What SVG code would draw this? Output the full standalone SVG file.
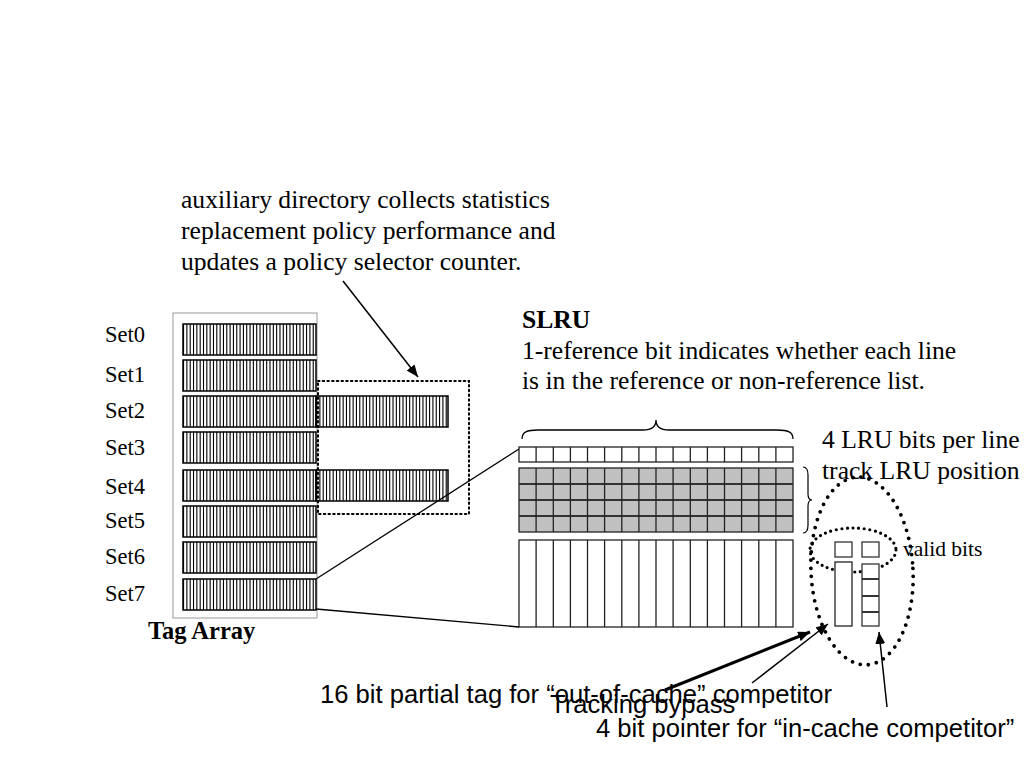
<svg xmlns="http://www.w3.org/2000/svg" width="1024" height="768" viewBox="0 0 1024 768">
<style>
.serif{font-family:"Liberation Serif","Times New Roman",serif;fill:#000}
.sans{font-family:"Liberation Sans",Arial,sans-serif;fill:#000}
.t18{font-size:25.6px}
.t16{font-size:22.5px}
.b{font-weight:bold}
.row{fill:none;stroke:#000;stroke-width:1.5}
.stripe{stroke:#000;stroke-width:31;stroke-dasharray:1.1 2.225}
.cell{fill:none;stroke:#222;stroke-width:1.3}
.ln{stroke:#000;fill:none}
.dots{fill:none;stroke:#000;stroke-linecap:round}
</style>
<defs>
<marker id="ah" viewBox="0 0 12 10" refX="12" refY="5" markerWidth="12" markerHeight="10" markerUnits="userSpaceOnUse" orient="auto">
<path d="M0,0 L12,5 L0,10 z" fill="#000"/>
</marker>
</defs>
<rect width="1024" height="768" fill="#fff"/>

<g id="top-text">
<text class="serif t18" x="181" y="208">auxiliary directory collects statistics</text>
<text class="serif t18" x="181" y="239">replacement policy performance and</text>
<text class="serif t18" x="181" y="270">updates a policy selector counter.</text>
</g>

<g id="tag-array">
<rect x="173" y="313" width="144" height="305" fill="none" stroke="#999" stroke-width="1"/>
<g id="set0"><line class="stripe" x1="183" y1="339.5" x2="316" y2="339.5"/><rect class="row" x="183" y="324" width="133" height="31"/><text class="serif t16" x="105" y="342">Set0</text></g>
<g id="set1"><line class="stripe" x1="183" y1="375.5" x2="316" y2="375.5"/><rect class="row" x="183" y="360" width="133" height="31"/><text class="serif t16" x="105" y="382">Set1</text></g>
<g id="set2"><line class="stripe" x1="183" y1="411.5" x2="316" y2="411.5"/><rect class="row" x="183" y="396" width="133" height="31"/><text class="serif t16" x="105" y="418">Set2</text></g>
<g id="set3"><line class="stripe" x1="183" y1="447.5" x2="316" y2="447.5"/><rect class="row" x="183" y="432" width="133" height="31"/><text class="serif t16" x="105" y="455">Set3</text></g>
<g id="set4"><line class="stripe" x1="183" y1="485.5" x2="316" y2="485.5"/><rect class="row" x="183" y="470" width="133" height="31"/><text class="serif t16" x="105" y="494">Set4</text></g>
<g id="set5"><line class="stripe" x1="183" y1="521.5" x2="316" y2="521.5"/><rect class="row" x="183" y="506" width="133" height="31"/><text class="serif t16" x="105" y="528">Set5</text></g>
<g id="set6"><line class="stripe" x1="183" y1="557.5" x2="316" y2="557.5"/><rect class="row" x="183" y="542" width="133" height="31"/><text class="serif t16" x="105" y="564">Set6</text></g>
<g id="set7"><line class="stripe" x1="183" y1="594.5" x2="316" y2="594.5"/><rect class="row" x="183" y="579" width="133" height="31"/><text class="serif t16" x="105" y="601">Set7</text></g>
<text class="serif b" font-size="24.5" x="148" y="639">Tag Array</text>
</g>

<g id="aux-directory">
<line class="stripe" x1="316" y1="411.5" x2="448" y2="411.5"/><rect class="row" x="316" y="396" width="132" height="31"/>
<line class="stripe" x1="316" y1="485.5" x2="448" y2="485.5"/><rect class="row" x="316" y="470" width="132" height="31"/>
<rect x="318" y="381" width="151" height="133" class="dots" stroke-width="2" stroke-dasharray="1.5 3.2"/>
</g>

<g id="slru-text">
<text class="serif t18 b" x="522" y="328">SLRU</text>
<text class="serif t18" x="522" y="359">1-reference bit indicates whether each line</text>
<text class="serif t18" x="522" y="389">is in the reference or non-reference list.</text>
</g>

<g id="cache-set">
<path class="ln" style="stroke-width:1.3" d="M522,439 C522,432 527,430 538,430 L643,430 C651,430 656,427 656,420 C656,427 661,430 669,430 L777,430 C788,430 793,432 793,439"/>
<rect x="519" y="447" width="274" height="15" fill="#fff" stroke="#222" stroke-width="1.3"/>
<path class="cell" d="M536.1,447V462M553.3,447V462M570.4,447V462M587.5,447V462M604.6,447V462M621.8,447V462M638.9,447V462M656,447V462M673.1,447V462M690.3,447V462M707.4,447V462M724.5,447V462M741.6,447V462M758.8,447V462M775.9,447V462"/>
<rect x="519" y="468" width="274" height="64" fill="#c0c0c0" stroke="#222" stroke-width="1.3"/>
<path d="M519,484H793M519,500H793M519,516H793" stroke="#333" stroke-width="2.2" fill="none"/>
<path class="cell" d="M536.1,468V532M553.3,468V532M570.4,468V532M587.5,468V532M604.6,468V532M621.8,468V532M638.9,468V532M656,468V532M673.1,468V532M690.3,468V532M707.4,468V532M724.5,468V532M741.6,468V532M758.8,468V532M775.9,468V532"/>
<rect x="519" y="540" width="274" height="87" fill="#fff" stroke="#222" stroke-width="1.3"/>
<path class="cell" d="M536.1,540V627M553.3,540V627M570.4,540V627M587.5,540V627M604.6,540V627M621.8,540V627M638.9,540V627M656,540V627M673.1,540V627M690.3,540V627M707.4,540V627M724.5,540V627M741.6,540V627M758.8,540V627M775.9,540V627"/>
<path class="ln" style="stroke-width:1.2" d="M803,467 C807,467 808,470 808,475 L808,494 C808,498 810,500 812,500 C810,500 808,502 808,506 L808,525 C808,530 807,533 803,533"/>
</g>

<g id="lru-text">
<text class="serif t18" x="822" y="448">4 LRU bits per line</text>
<text class="serif t18" x="822" y="479">track LRU position</text>
</g>

<g id="competitor">
<ellipse cx="862" cy="571" rx="51" ry="94" transform="rotate(-3 862 571)" class="dots" stroke-width="3.8" stroke-dasharray="0 8.2"/>
<ellipse cx="853" cy="550" rx="43" ry="22" class="dots" stroke-width="3.2" stroke-dasharray="0 5.6"/>
<rect x="835" y="542" width="17" height="15" fill="#fff" stroke="#333" stroke-width="1.3"/>
<rect x="862" y="542" width="17" height="15" fill="#fff" stroke="#333" stroke-width="1.3"/>
<rect x="835" y="562" width="17" height="64" fill="#fff" stroke="#222" stroke-width="1.3"/>
<rect x="862" y="564" width="17" height="62" fill="#fff" stroke="#333" stroke-width="1.3"/>
<path d="M862,579H879M862,596H879M862,612H879" stroke="#333" stroke-width="2" fill="none"/>
<text class="serif" font-size="21.5" x="903" y="556">valid bits</text>
</g>

<g id="connectors">
<line class="ln" style="stroke-width:1.5" x1="343" y1="281" x2="418" y2="377" marker-end="url(#ah)"/>
<line class="ln" style="stroke-width:1.3" x1="316" y1="579" x2="519" y2="449"/>
<line class="ln" style="stroke-width:1.3" x1="316" y1="609" x2="519" y2="627"/>
<line class="ln" style="stroke-width:3" x1="665" y1="690" x2="810" y2="632" marker-end="url(#ah)"/>
<line class="ln" style="stroke-width:1.5" x1="752" y1="683" x2="828" y2="624" marker-end="url(#ah)"/>
<line class="ln" style="stroke-width:1.5" x1="887" y1="707" x2="879" y2="632" marker-end="url(#ah)"/>
</g>

<g id="bottom-text">
<text class="sans t18" x="320" y="703">16 bit partial tag for “out-of-cache” competitor</text>
<text class="sans t18" x="550" y="713">Tracking bypass</text>
<text class="sans t18" x="596" y="737">4 bit pointer for “in-cache competitor”</text>
</g>
</svg>
